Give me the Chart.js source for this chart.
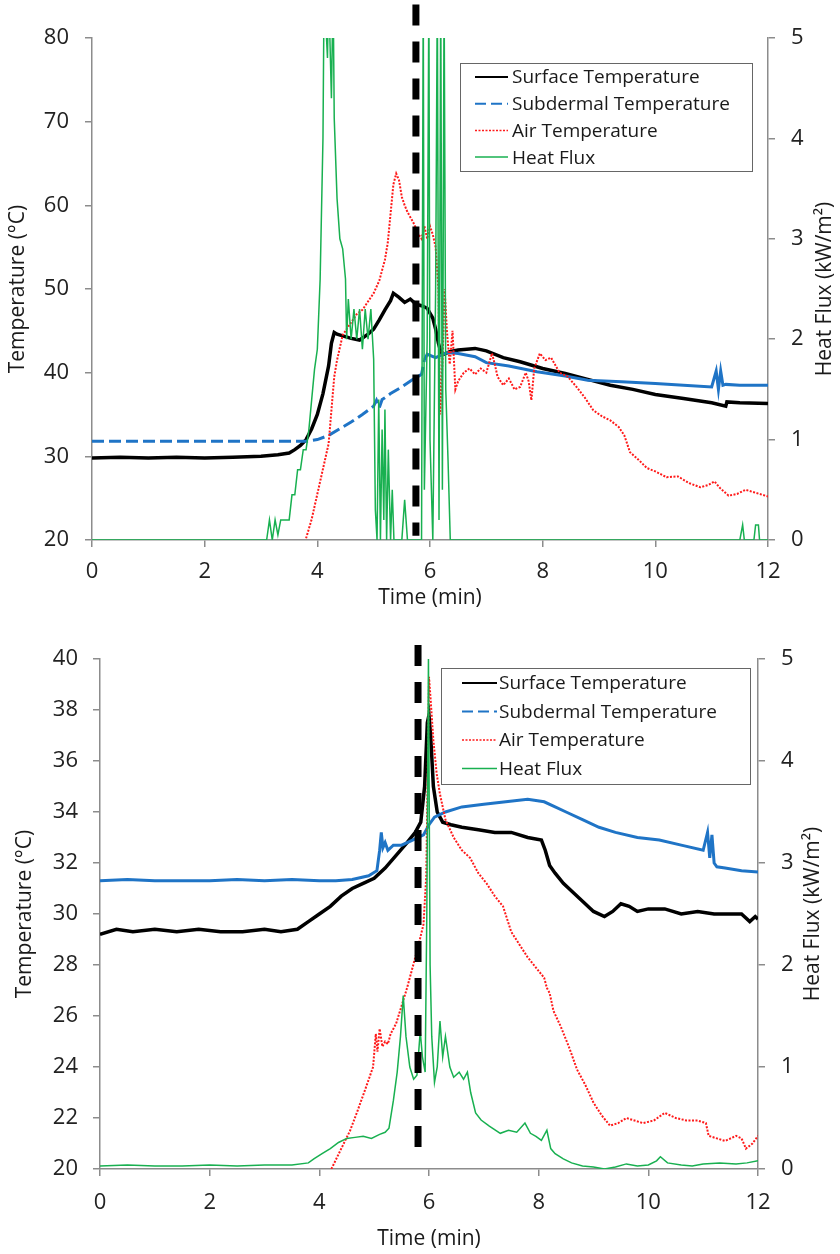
<!DOCTYPE html>
<html>
<head>
<meta charset="utf-8">
<script src="https://cdn.jsdelivr.net/npm/chart.js@4"></script>
<style>
body { margin: 0; background: #fff; }
canvas { display: block; }
</style>
</head>
<body>
<canvas id="chartTop" width="840" height="624"></canvas>
<canvas id="chartBottom" width="840" height="630"></canvas>
<script>
var seriesNames = ['Surface Temperature', 'Subdermal Temperature', 'Air Temperature', 'Heat Flux'];
var timeTicks = [0, 2, 4, 6, 8, 10, 12];

// ---- top chart ----
var t1Surface = [0, 0.5, 1, 1.5, 2, 2.5, 3, 3.3, 3.5, 3.6, 3.7, 3.8, 3.9, 4.0, 4.1, 4.2, 4.25, 4.3, 4.35, 4.45, 4.6, 4.75, 4.9, 5.0, 5.1, 5.2, 5.3, 5.35, 5.45, 5.55, 5.65, 5.75, 5.85, 5.95, 6.05, 6.1, 6.15, 6.2, 6.25, 6.35, 6.5, 6.8, 7.0, 7.3, 7.6, 8.0, 8.4, 8.8, 9.2, 9.6, 10.0, 10.5, 11.0, 11.25, 11.27, 11.5, 12];
var y1Surface = [29.8, 29.9, 29.8, 29.9, 29.8, 29.9, 30.0, 30.2, 30.4, 30.8, 31.3, 32.0, 33.3, 35.0, 37.5, 40.8, 43.5, 44.8, 44.6, 44.4, 44.1, 43.9, 44.6, 45.2, 46.3, 47.5, 48.6, 49.5, 49.0, 48.4, 48.8, 48.2, 48.0, 47.7, 46.5, 45.2, 43.5, 42.3, 42.2, 42.5, 42.7, 42.9, 42.6, 41.8, 41.3, 40.5, 39.9, 39.2, 38.5, 38.0, 37.4, 36.9, 36.4, 36.0, 36.5, 36.4, 36.3];

var t1Sub = [0, 1, 2, 3, 3.5, 3.8, 4.0, 4.2, 4.4, 4.6, 4.8, 5.0, 5.05, 5.1, 5.15, 5.2, 5.3, 5.5, 5.7, 5.85, 5.9, 5.95, 6.1, 6.3, 6.5, 6.8, 7.0, 7.4, 7.9, 8.4, 8.8, 9.4, 10.0, 10.5, 11.0, 11.08, 11.12, 11.16, 11.2, 11.25, 11.5, 12];
var y1Sub = [31.8, 31.8, 31.8, 31.8, 31.8, 31.8, 32.0, 32.5, 33.3, 34.1, 35.0, 36.0, 36.7, 35.8, 36.8, 37.0, 37.5, 38.3, 39.2, 39.8, 41.5, 42.2, 41.8, 42.4, 42.3, 41.9, 41.2, 40.8, 40.1, 39.6, 39.1, 38.9, 38.7, 38.5, 38.3, 40.2, 38.0, 40.2, 38.5, 38.6, 38.5, 38.5];

var t1Air = [3.8, 3.9, 4.0, 4.1, 4.2, 4.3, 4.35, 4.45, 4.6, 4.7, 4.8, 4.9, 5.0, 5.1, 5.2, 5.25, 5.3, 5.35, 5.4, 5.45, 5.5, 5.55, 5.6, 5.7, 5.8, 5.85, 5.9, 5.95, 6.0, 6.05, 6.1, 6.15, 6.18, 6.22, 6.26, 6.3, 6.35, 6.4, 6.45, 6.5, 6.6, 6.7, 6.8, 6.9, 7.0, 7.1, 7.15, 7.2, 7.3, 7.4, 7.5, 7.6, 7.7, 7.75, 7.8, 7.85, 7.95, 8.05, 8.15, 8.3, 8.45, 8.6, 8.75, 8.9, 9.05, 9.2, 9.35, 9.45, 9.55, 9.7, 9.85, 10.0, 10.2, 10.4, 10.6, 10.8, 10.95, 11.05, 11.15, 11.3, 11.45, 11.6, 11.75, 11.9, 12];
var y1Air = [20.2, 22.5, 25.5, 28.5, 31.5, 39.5, 41.5, 44.5, 46.0, 47.0, 47.5, 48.5, 49.5, 51.0, 53.5, 55.5, 59.0, 62.5, 63.8, 63.0, 61.0, 60.0, 59.2, 58.0, 56.5, 56.0, 57.5, 56.0, 57.5, 56.5, 55.0, 50.0, 35.0, 41.0, 50.0, 45.0, 41.0, 45.0, 38.0, 39.0, 40.0, 40.5, 39.8, 40.5, 40.0, 42.3, 41.0, 39.5, 38.5, 39.3, 38.0, 38.3, 40.0, 39.0, 36.7, 40.5, 42.3, 41.5, 41.8, 40.0, 39.5, 38.3, 37.0, 35.5, 34.8, 34.3, 33.5, 32.5, 30.5, 29.6, 28.6, 28.2, 27.5, 27.6, 26.8, 26.3, 26.6, 27.0, 26.2, 25.3, 25.5, 26.0, 25.7, 25.4, 25.2];

var t1Flux = [0, 3.1, 3.15, 3.2, 3.25, 3.3, 3.35, 3.5, 3.55, 3.6, 3.65, 3.7, 3.75, 3.8, 3.85, 3.9, 3.95, 4.0, 4.05, 4.1, 4.12, 4.18, 4.2, 4.25, 4.28, 4.3, 4.35, 4.4, 4.45, 4.5, 4.52, 4.55, 4.6, 4.65, 4.7, 4.75, 4.8, 4.85, 4.9, 4.95, 5.0, 5.03, 5.06, 5.09, 5.12, 5.15, 5.18, 5.2, 5.23, 5.26, 5.3, 5.33, 5.36, 5.5, 5.55, 5.6, 5.85, 5.88, 5.9, 5.95, 5.98, 6.0, 6.05, 6.1, 6.13, 6.16, 6.19, 6.22, 6.25, 6.28, 6.32, 6.36, 11.5, 11.55, 11.58, 11.75, 11.78, 11.83, 11.85, 12];
var y1Flux = [0, 0, 0.2, 0, 0.2, 0.05, 0.2, 0.2, 0.45, 0.45, 0.7, 0.7, 0.9, 0.9, 1.1, 1.4, 1.7, 1.9, 2.6, 4.0, 5.5, 4.8, 5.5, 4.4, 5.5, 4.2, 3.4, 3.0, 2.9, 2.6, 2.0, 2.4, 2.0, 2.3, 2.0, 2.3, 1.9, 2.3, 2.0, 2.3, 1.8, 0.3, 0, 1.4, 0, 1.1, 0.2, 1.3, 0, 0.9, 0, 0.5, 0, 0, 0.4, 0, 0, 5.5, 0.5, 2.0, 5.5, 1.0, 0, 2.5, 5.5, 0.2, 5.5, 0.5, 5.5, 1.5, 0.8, 0, 0, 0.15, 0, 0, 0.15, 0.15, 0, 0];

var t1Marker = [5.75, 5.75];
var y1Marker = [84, 20.5];

// ---- bottom chart ----
var t2Surface = [0, 0.3, 0.6, 1.0, 1.4, 1.8, 2.2, 2.6, 3.0, 3.3, 3.6, 3.8, 4.0, 4.2, 4.4, 4.6, 4.8, 5.0, 5.2, 5.4, 5.6, 5.75, 5.85, 5.92, 5.97, 6.0, 6.03, 6.08, 6.15, 6.25, 6.4, 6.6, 6.9, 7.2, 7.5, 7.8, 8.05, 8.12, 8.2, 8.3, 8.45, 8.6, 8.8, 9.0, 9.2, 9.35, 9.5, 9.65, 9.8, 10.0, 10.3, 10.6, 10.9, 11.2, 11.5, 11.7, 11.85, 11.95, 12];
var y2Surface = [29.2, 29.4, 29.3, 29.4, 29.3, 29.4, 29.3, 29.3, 29.4, 29.3, 29.4, 29.7, 30.0, 30.3, 30.7, 31.0, 31.2, 31.4, 31.8, 32.3, 32.8, 33.2, 33.6, 35.0, 37.5, 37.8, 37.0, 35.0, 34.0, 33.6, 33.5, 33.4, 33.3, 33.2, 33.2, 33.0, 32.9, 32.5, 31.9, 31.6, 31.2, 30.9, 30.5, 30.1, 29.9, 30.1, 30.4, 30.3, 30.1, 30.2, 30.2, 30.0, 30.1, 30.0, 30.0, 30.0, 29.7, 29.9, 29.8];

var t2Sub = [0, 0.5, 1, 1.5, 2, 2.5, 3, 3.5, 4.0, 4.3, 4.6, 4.9, 5.05, 5.1, 5.13, 5.16, 5.2, 5.25, 5.35, 5.5, 5.7, 5.9, 6.0, 6.1, 6.3, 6.6, 7.0, 7.4, 7.8, 8.1, 8.3, 8.5, 8.8, 9.1, 9.4, 9.8, 10.2, 10.6, 11.0, 11.08, 11.12, 11.16, 11.2, 11.25, 11.4, 11.7, 12];
var y2Sub = [31.3, 31.35, 31.3, 31.3, 31.3, 31.35, 31.3, 31.35, 31.3, 31.3, 31.35, 31.5, 31.7, 32.5, 33.2, 32.6, 32.8, 32.5, 32.7, 32.7, 32.9, 33.1, 33.5, 33.8, 34.0, 34.2, 34.3, 34.4, 34.5, 34.4, 34.2, 34.0, 33.7, 33.4, 33.2, 33.0, 32.9, 32.7, 32.5, 33.2, 32.2, 33.1, 32.0, 31.85, 31.8, 31.7, 31.65];

var t2Air = [4.22, 4.4, 4.56, 4.7, 4.85, 4.98, 5.03, 5.06, 5.1, 5.15, 5.2, 5.25, 5.3, 5.4, 5.5, 5.6, 5.7, 5.8, 5.9, 5.95, 5.98, 6.0, 6.03, 6.08, 6.14, 6.2, 6.3, 6.45, 6.6, 6.75, 6.9, 7.05, 7.2, 7.35, 7.5, 7.65, 7.8, 7.95, 8.1, 8.15, 8.2, 8.27, 8.4, 8.55, 8.7, 8.85, 9.0, 9.15, 9.3, 9.45, 9.6, 9.75, 9.9, 10.1, 10.3, 10.5, 10.7, 10.9, 11.05, 11.1, 11.25, 11.4, 11.6, 11.7, 11.78, 11.9, 12];
var y2Air = [20.0, 20.8, 21.5, 22.3, 23.2, 24.0, 25.3, 24.6, 25.5, 24.8, 25.0, 24.9, 25.3, 25.7, 26.4, 27.1, 27.9, 28.7, 29.6, 31.5, 36.0, 39.3, 38.4, 36.8, 35.5, 34.7, 33.7, 33.0, 32.5, 32.2, 31.6, 31.2, 30.7, 30.3, 29.3, 28.8, 28.3, 27.9, 27.5, 27.1, 26.9, 26.2, 25.6, 24.8, 23.9, 23.3, 22.6, 22.1, 21.7, 21.8, 22.0, 21.9, 21.8, 21.9, 22.2, 22.0, 21.9, 21.9, 21.8, 21.3, 21.2, 21.1, 21.3, 21.2, 20.8, 21.0, 21.3];

var t2Flux = [0, 0.5, 1, 1.5, 2, 2.5, 3, 3.5, 3.8, 3.9, 4.05, 4.2, 4.35, 4.5, 4.65, 4.8, 4.95, 5.1, 5.2, 5.27, 5.35, 5.42, 5.48, 5.53, 5.58, 5.65, 5.72, 5.78, 5.84, 5.88, 5.93, 5.96, 5.99, 6.02, 6.05, 6.1, 6.15, 6.2, 6.25, 6.3, 6.38, 6.45, 6.55, 6.63, 6.7, 6.76, 6.85, 6.95, 7.1, 7.3, 7.45, 7.6, 7.75, 7.85, 7.95, 8.05, 8.15, 8.22, 8.3, 8.45, 8.6, 8.8, 9.0, 9.2, 9.4, 9.6, 9.8, 10.0, 10.15, 10.22, 10.35, 10.6, 10.8, 11.0, 11.3, 11.6, 11.8, 12];
var y2Flux = [0.03, 0.04, 0.03, 0.03, 0.04, 0.03, 0.04, 0.04, 0.06, 0.1, 0.15, 0.2, 0.26, 0.3, 0.31, 0.32, 0.3, 0.34, 0.36, 0.4, 0.67, 0.95, 1.3, 1.7, 1.3, 1.0, 0.88, 0.92, 1.35, 1.1, 0.95, 2.5, 5.0, 2.0, 1.3, 0.85, 1.0, 1.45, 1.1, 1.3, 1.0, 0.9, 0.95, 0.88, 0.95, 0.75, 0.55, 0.48, 0.42, 0.35, 0.38, 0.36, 0.45, 0.35, 0.32, 0.28, 0.38, 0.2, 0.15, 0.1, 0.06, 0.03, 0.02, 0.0, 0.02, 0.05, 0.03, 0.04, 0.08, 0.12, 0.06, 0.04, 0.03, 0.05, 0.06, 0.05, 0.06, 0.08];

var t2Marker = [5.8, 5.8];
var y2Marker = [40.55, 20.4];

var FONT = "'Open Sans', 'DejaVu Sans', sans-serif";
var colSurface = '#000000', colSub = '#1f74c6', colAir = '#ff1a1a', colFlux = '#18b050';

function pts(t, v) {
    return t.map(function (x, i) { return { x: x, y: v[i] }; });
}

// legend drawn as a boxed panel like the original
var boxLegend = {
    id: 'boxLegend',
    afterDraw: function (chart, args, o) {
        var ctx = chart.ctx;
        ctx.save();
        ctx.fillStyle = '#fff';
        ctx.fillRect(o.left, o.top, o.width, o.height);
        ctx.strokeStyle = '#666';
        ctx.lineWidth = 1;
        ctx.strokeRect(o.left + 0.5, o.top + 0.5, o.width, o.height);
        ctx.font = '19px ' + FONT;
        ctx.textBaseline = 'middle';
        var styles = [
            { c: colSurface, w: 2, d: [] },
            { c: colSub, w: 2, d: [11, 5] },
            { c: colAir, w: 1.5, d: [2, 1.5] },
            { c: colFlux, w: 1.5, d: [] }
        ];
        seriesNames.forEach(function (name, i) {
            var y = o.top + o.firstRow + i * o.rowGap;
            var s = styles[i];
            ctx.strokeStyle = s.c;
            ctx.lineWidth = s.w;
            ctx.setLineDash(s.d);
            ctx.beginPath();
            ctx.moveTo(o.left + o.sampleX, y);
            ctx.lineTo(o.left + o.sampleX + o.sampleLen, y);
            ctx.stroke();
            ctx.setLineDash([]);
            ctx.fillStyle = '#1a1a1a';
            ctx.fillText(name, o.left + o.textX, y + 1);
        });
        ctx.restore();
    }
};

// right axis title reads bottom-to-top in the original
var rightTitle = {
    id: 'rightTitle',
    afterDraw: function (chart, args, o) {
        var ctx = chart.ctx, a = chart.chartArea;
        ctx.save();
        ctx.translate(o.x, (a.top + a.bottom) / 2);
        ctx.rotate(-Math.PI / 2);
        ctx.font = '21px ' + FONT;
        ctx.fillStyle = '#1a1a1a';
        ctx.textAlign = 'center';
        ctx.textBaseline = 'middle';
        ctx.fillText('Heat Flux (kW/m\u00B2)', 0, 0);
        ctx.restore();
    }
};

function axisGrid() {
    return { drawOnChartArea: false, drawTicks: true, tickLength: 7, color: '#8c8c8c', lineWidth: 1.5 };
}

function makeChart(id, d, lay) {
    var datasets = [
        { label: seriesNames[0], data: pts(d.tS, d.yS), borderColor: colSurface, borderWidth: 3.5, order: 5, yAxisID: 'y' },
        { label: seriesNames[1], data: pts(d.tB, d.yB), borderColor: colSub, borderWidth: 3, order: 4, yAxisID: 'y',
          segment: { borderDash: function (c) { return c.p0.parsed.x < lay.subSolidFrom ? [12, 5] : []; } } },
        { label: seriesNames[2], data: pts(d.tA, d.yA), borderColor: colAir, borderWidth: 2, borderDash: [2, 1.5], order: 3, yAxisID: 'y' },
        { label: seriesNames[3], data: pts(d.tF, d.yF), borderColor: colFlux, borderWidth: 1.5, order: 2, yAxisID: 'y1' },
        { label: 'marker', data: pts(d.tM, d.yM), borderColor: '#000', borderWidth: 7, borderDash: [21, 16], order: 1, yAxisID: 'y', clip: false }
    ];
    return new Chart(document.getElementById(id).getContext('2d'), {
        type: 'line',
        data: { datasets: datasets },
        options: {
            responsive: false,
            animation: false,
            parsing: true,
            elements: { point: { radius: 0 }, line: { tension: 0 } },
            layout: { padding: { top: lay.padTop, left: 0, right: 0, bottom: 0 } },
            plugins: {
                legend: { display: false },
                tooltip: { enabled: false },
                boxLegend: lay.legend,
                rightTitle: { x: lay.rightTitleX }
            },
            scales: {
                x: {
                    type: 'linear', min: 0, max: 12,
                    afterBuildTicks: function (s) { s.ticks = timeTicks.map(function (v) { return { value: v }; }); },
                    ticks: { font: { size: 22, family: FONT }, color: '#222', padding: lay.xTickPad, maxRotation: 0 },
                    grid: axisGrid(),
                    border: { color: '#8c8c8c', width: 1.5 },
                    title: { display: true, text: 'Time (min)', font: { size: 21, family: FONT }, color: '#1a1a1a', padding: { top: 0, bottom: lay.xTitlePad } },
                    afterFit: function (s) { s.height = lay.xHeight; }
                },
                y: {
                    position: 'left', min: lay.yMin, max: lay.yMax,
                    ticks: { stepSize: lay.yStep, font: { size: 22, family: FONT }, color: '#222', padding: lay.yTickPad },
                    grid: axisGrid(),
                    border: { color: '#8c8c8c', width: 1.5 },
                    title: { display: true, text: 'Temperature (\u00B0C)', font: { size: 21, family: FONT }, color: '#1a1a1a', padding: { top: lay.yTitlePad, bottom: 0 } },
                    afterFit: function (s) { s.width = lay.leftWidth; }
                },
                y1: {
                    position: 'right', min: 0, max: 5,
                    ticks: { stepSize: 1, font: { size: 22, family: FONT }, color: '#222', padding: 16 },
                    grid: axisGrid(),
                    border: { color: '#8c8c8c', width: 1.5 },
                    afterFit: function (s) { s.width = lay.rightWidth; }
                }
            }
        },
        plugins: [boxLegend, rightTitle]
    });
}

makeChart('chartTop',
    { tS: t1Surface, yS: y1Surface, tB: t1Sub, yB: y1Sub, tA: t1Air, yA: y1Air, tF: t1Flux, yF: y1Flux, tM: t1Marker, yM: y1Marker },
    { padTop: 38, leftWidth: 92, rightWidth: 72, xHeight: 84, yMin: 20, yMax: 80, yStep: 10,
      xTickPad: 12, xTitlePad: 13, yTickPad: 16, yTitlePad: 5, rightTitleX: 825, subSolidFrom: 5.9,
      legend: { left: 460, top: 63, width: 292, height: 108, firstRow: 14, rowGap: 26.7, sampleX: 15, sampleLen: 33, textX: 52 } });

makeChart('chartBottom',
    { tS: t2Surface, yS: y2Surface, tB: t2Sub, yB: y2Sub, tA: t2Air, yA: y2Air, tF: t2Flux, yF: y2Flux, tM: t2Marker, yM: y2Marker },
    { padTop: 35, leftWidth: 100, rightWidth: 82, xHeight: 85, yMin: 20, yMax: 40, yStep: 2,
      xTickPad: 14, xTitlePad: 2, yTickPad: 15, yTitlePad: 12, rightTitleX: 813, subSolidFrom: 0,
      legend: { left: 441, top: 44, width: 309, height: 116, firstRow: 15, rowGap: 28.5, sampleX: 21, sampleLen: 35, textX: 58 } });
</script>
</body>
</html>
